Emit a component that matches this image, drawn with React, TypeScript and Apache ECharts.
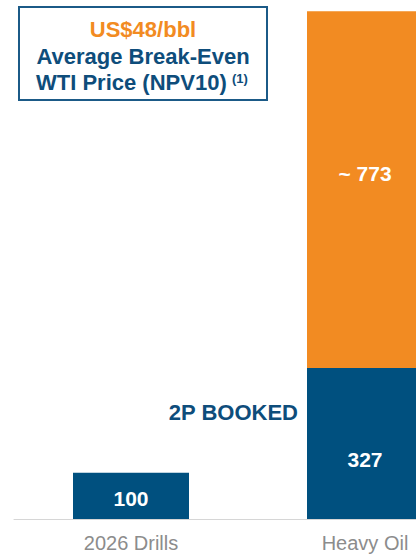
import React, { useEffect, useRef } from "react";
import * as echarts from "echarts";

const categories = ["2026 Drills", "Heavy Oil"];
const bookedValues = [100, 327];
const unbookedValues: (number | null)[] = [null, 773];
const headline = "US$48/bbl";
const subtitleLines = ["Average Break-Even", "WTI Price (NPV10)"];
const footnoteMark = "(1)";
const bookedLabel = "2P BOOKED";

const BLUE = "#00507f";
const ORANGE = "#f28b22";
const FONT = "'Liberation Sans', Arial, sans-serif";

export default function App() {
  const ref = useRef<HTMLDivElement>(null);
  useEffect(() => {
    if (!ref.current) return;
    const chart = echarts.init(ref.current, undefined, { renderer: "svg" });
    const bookedOffsets = [[0, 3], [0, 16]];
    chart.setOption({
      animation: false,
      grid: { left: 14, right: 18, top: 2, bottom: 36, containLabel: false },
      xAxis: {
        type: "category",
        data: categories,
        axisTick: { show: false },
        axisLine: { lineStyle: { color: "#d6d6d6", width: 1 } },
        axisLabel: { color: "#8c8c8c", fontSize: 20, fontFamily: FONT, margin: 14 },
      },
      yAxis: { type: "value", min: 0, max: 1120, show: false, splitLine: { show: false } },
      series: [
        {
          name: "Booked",
          type: "bar",
          stack: "total",
          barWidth: 116,
          itemStyle: { color: BLUE },
          data: bookedValues.map((v, i) => ({
            value: v,
            label: { offset: bookedOffsets[i] },
          })),
          label: {
            show: true,
            position: "inside",
            color: "#fff",
            fontWeight: "bold",
            fontSize: 21,
            fontFamily: FONT,
          },
        },
        {
          name: "Unbooked",
          type: "bar",
          stack: "total",
          barWidth: 116,
          itemStyle: { color: ORANGE },
          data: unbookedValues.map((v) => (v == null ? "-" : v)),
          label: {
            show: true,
            position: "inside",
            offset: [0, -16],
            formatter: "~ {c}",
            color: "#fff",
            fontWeight: "bold",
            fontSize: 21,
            fontFamily: FONT,
          },
        },
      ],
      graphic: [
        {
          type: "rect",
          shape: { x: 19, y: 7, width: 248, height: 93 },
          style: { fill: "#fff", stroke: "#1b5a87", lineWidth: 2 },
        },
        {
          type: "text",
          x: 143,
          y: 29,
          style: {
            text: headline,
            fill: ORANGE,
            font: `bold 22px ${FONT}`,
            textAlign: "center",
            textVerticalAlign: "middle",
          },
        },
        {
          type: "text",
          x: 143,
          y: 56,
          style: {
            text: subtitleLines[0],
            fill: "#0e4d7b",
            font: `bold 22px ${FONT}`,
            textAlign: "center",
            textVerticalAlign: "middle",
          },
        },
        {
          type: "text",
          x: 36,
          y: 82,
          style: {
            text: subtitleLines[1],
            fill: "#0e4d7b",
            font: `bold 22px ${FONT}`,
            textAlign: "left",
            textVerticalAlign: "middle",
          },
        },
        {
          type: "text",
          x: 232,
          y: 78,
          style: {
            text: footnoteMark,
            fill: "#0e4d7b",
            font: `bold 13px ${FONT}`,
            textAlign: "left",
            textVerticalAlign: "middle",
          },
        },
        {
          type: "text",
          x: 298,
          y: 412,
          style: {
            text: bookedLabel,
            fill: "#0e4d7b",
            font: `bold 22px ${FONT}`,
            textAlign: "right",
            textVerticalAlign: "middle",
          },
        },
      ],
    });
    return () => chart.dispose();
  }, []);
  return (
    <div
      style={{
        position: "fixed",
        left: 0,
        top: 0,
        width: 416,
        height: 555,
        overflow: "hidden",
        background: "#fff",
      }}
    >
      <div ref={ref} style={{ width: 500, height: 555 }} />
    </div>
  );
}
